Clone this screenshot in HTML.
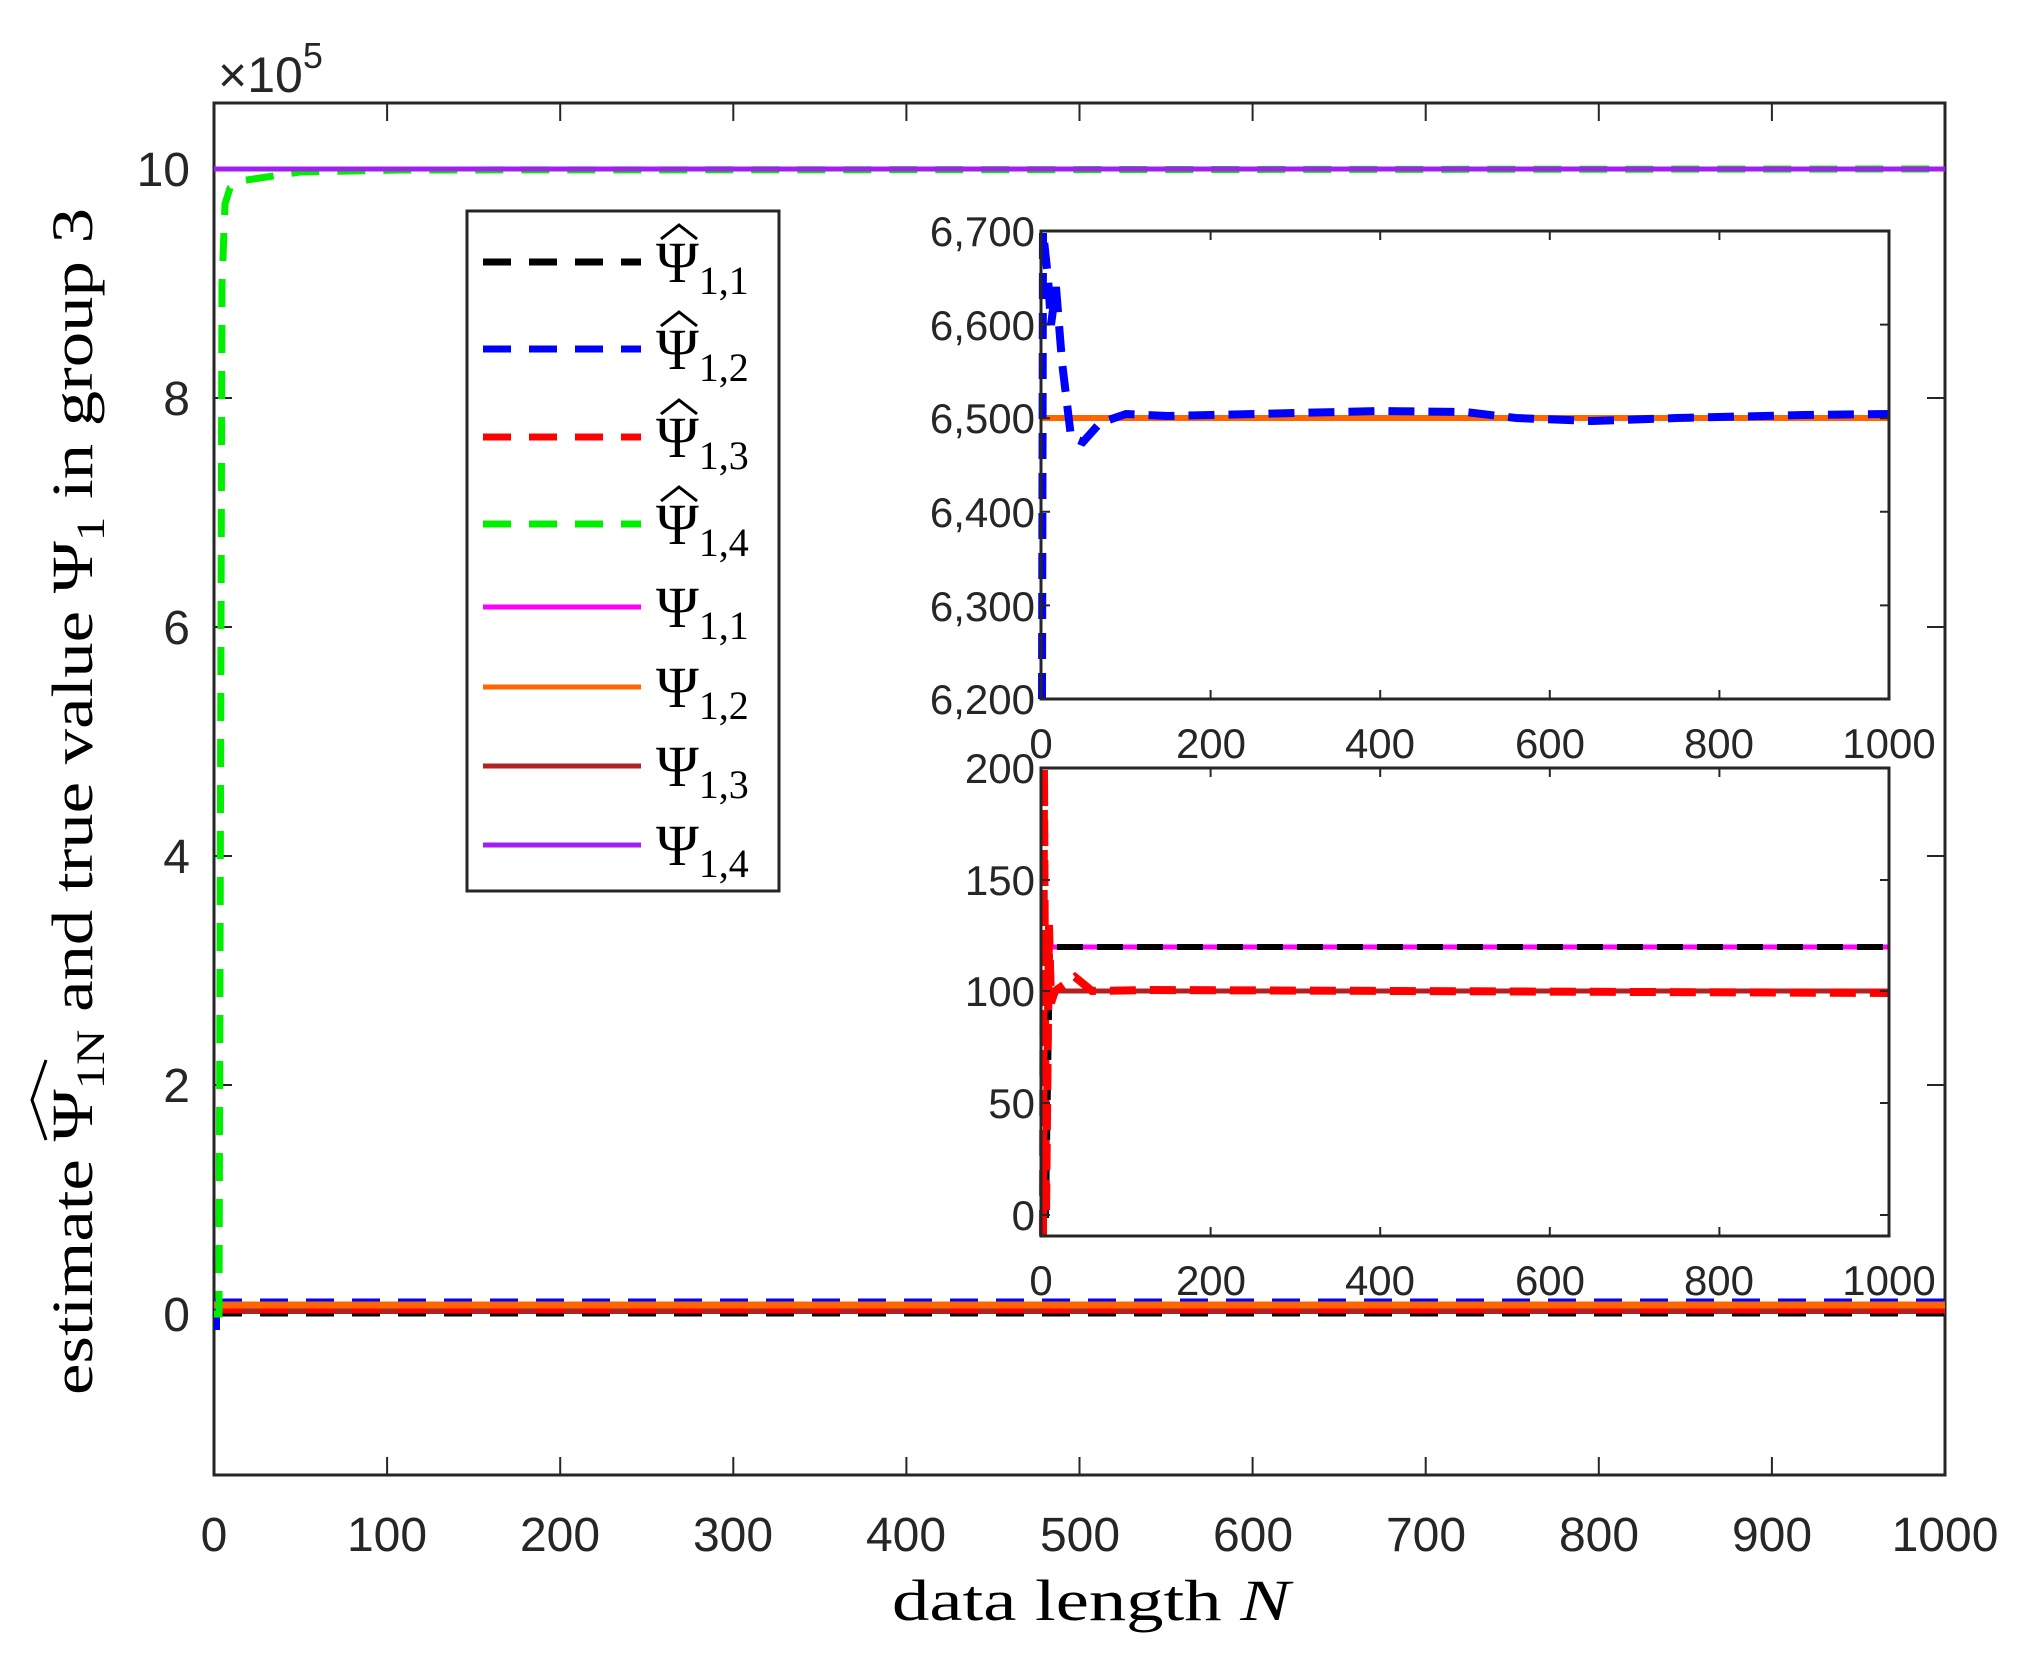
<!DOCTYPE html>
<html><head><meta charset="utf-8"><style>
html,body{margin:0;padding:0;background:#fff}
svg{display:block}
text{font-family:"Liberation Sans",sans-serif;fill:#262626}
.s{font-family:"Liberation Serif",serif;fill:#000}
</style></head><body>
<svg width="2033" height="1659" viewBox="0 0 2033 1659" xmlns="http://www.w3.org/2000/svg">
<rect width="2033" height="1659" fill="#fff"/>
<g stroke="#262626" stroke-width="3" fill="none">
<rect x="214" y="103" width="1731" height="1372"/>
</g>
<g stroke="#262626" stroke-width="2">
<path d="M387.1,1475v-18M560.2,1475v-18M733.3,1475v-18M906.4,1475v-18M1079.5,1475v-18M1252.6,1475v-18M1425.7,1475v-18M1598.8,1475v-18M1771.9,1475v-18
M387.1,103v18M560.2,103v18M733.3,103v18M906.4,103v18M1079.5,103v18M1252.6,103v18M1425.7,103v18M1598.8,103v18M1771.9,103v18"/>
<path d="M214,169h18M214,398h18M214,627h18M214,856h18M214,1085h18M214,1314h18
M1945,169h-18M1945,398h-18M1945,627h-18M1945,856h-18M1945,1085h-18M1945,1314h-18"/>
</g>
<g font-size="48" text-anchor="middle">
<text x="214" y="1551">0</text><text x="387" y="1551">100</text><text x="560" y="1551">200</text><text x="733" y="1551">300</text><text x="906" y="1551">400</text><text x="1080" y="1551">500</text><text x="1253" y="1551">600</text><text x="1426" y="1551">700</text><text x="1599" y="1551">800</text><text x="1772" y="1551">900</text><text x="1945" y="1551">1000</text>
</g>
<g font-size="48" text-anchor="end">
<text x="190" y="186">10</text><text x="190" y="415">8</text><text x="190" y="644">6</text><text x="190" y="873">4</text><text x="190" y="1102">2</text><text x="190" y="1331">0</text>
</g>
<text x="218" y="92" font-size="50">×10<tspan dy="-24" font-size="36">5</tspan></text>
<text class="s" x="892" y="1620" font-size="58" textLength="398" lengthAdjust="spacingAndGlyphs">data length <tspan font-style="italic">N</tspan></text>
<text class="s" transform="translate(92,1395) rotate(-90)" font-size="58" textLength="1187" lengthAdjust="spacingAndGlyphs">estimate Ψ<tspan dy="12" font-size="40">1N</tspan><tspan dy="-12"> and true value Ψ</tspan><tspan dy="12" font-size="40">1</tspan><tspan dy="-12"> in group 3</tspan></text>
<path d="M46,1060 L32,1100 L46,1140" fill="none" stroke="#000" stroke-width="3"/>

<g fill="none">
<path d="M214,1311H1945" stroke="#b22222" stroke-width="6"/>
<path d="M214,1314H1945" stroke="#000" stroke-width="5" stroke-dasharray="28,18"/>
<path d="M214,1311H1945" stroke="#ff0000" stroke-width="5" stroke-dasharray="28,18"/>
<path d="M214,1301H1945" stroke="#0000ff" stroke-width="5" stroke-dasharray="28,18"/>
<path d="M217,1330V1301" stroke="#0000ff" stroke-width="6"/>
<path d="M214,1305H1945" stroke="#ff6600" stroke-width="7"/>
<path d="M214,1314L219,1314L222,284L225,204L230,188L240,181L260,178L300,172L400,170L1945,169" stroke="#00ee00" stroke-width="7" stroke-dasharray="28,18"/>
<path d="M214,169H1945" stroke="#a020f0" stroke-width="5"/>
</g>

<rect x="467" y="211" width="312" height="680" fill="#fff" stroke="#262626" stroke-width="3"/>
<g fill="none" stroke-width="7">
<path d="M483,262H641" stroke="#000" stroke-dasharray="28,18"/>
<path d="M483,349H641" stroke="#0000ff" stroke-dasharray="28,18"/>
<path d="M483,437H641" stroke="#ff0000" stroke-dasharray="28,18"/>
<path d="M483,524H641" stroke="#00ee00" stroke-dasharray="28,18"/>
<path d="M483,607H641" stroke="#ff00ff" stroke-width="5"/>
<path d="M483,687H641" stroke="#ff6600" stroke-width="5"/>
<path d="M483,766H641" stroke="#b22222" stroke-width="5"/>
<path d="M483,845H641" stroke="#a020f0" stroke-width="5"/>
</g>
<g fill="none" stroke="#000" stroke-width="3">
<path d="M661,239L679,225L697,239"/>
<path d="M661,326L679,312L697,326"/>
<path d="M661,414L679,400L697,414"/>
<path d="M661,501L679,487L697,501"/>
</g>
<g>
<text class="s" x="656" y="282" font-size="58">Ψ<tspan dy="12" font-size="40">1,1</tspan></text>
<text class="s" x="656" y="369" font-size="58">Ψ<tspan dy="12" font-size="40">1,2</tspan></text>
<text class="s" x="656" y="457" font-size="58">Ψ<tspan dy="12" font-size="40">1,3</tspan></text>
<text class="s" x="656" y="544" font-size="58">Ψ<tspan dy="12" font-size="40">1,4</tspan></text>
<text class="s" x="656" y="627" font-size="58">Ψ<tspan dy="12" font-size="40">1,1</tspan></text>
<text class="s" x="656" y="707" font-size="58">Ψ<tspan dy="12" font-size="40">1,2</tspan></text>
<text class="s" x="656" y="786" font-size="58">Ψ<tspan dy="12" font-size="40">1,3</tspan></text>
<text class="s" x="656" y="865" font-size="58">Ψ<tspan dy="12" font-size="40">1,4</tspan></text>
</g>

<rect x="1041" y="231" width="848" height="468" fill="#fff"/>
<g fill="none">
<path d="M1041,418H1889" stroke="#ff6600" stroke-width="6"/>
<path d="M1042,699L1043,231L1048,278L1051,325L1056,287L1062,362L1071,437L1083,442L1100,423L1126,414L1168,416L1211,415L1295,413L1380,411L1465,412L1516,418L1592,421L1677,418L1804,415L1889,414" stroke="#0000ff" stroke-width="8" stroke-dasharray="26,14"/>
</g>
<rect x="1041" y="231" width="848" height="468" fill="none" stroke="#262626" stroke-width="3"/>
<g stroke="#262626" stroke-width="2">
<path d="M1210.6,699v-9M1380.2,699v-9M1549.8,699v-9M1719.4,699v-9M1210.6,231v9M1380.2,231v9M1549.8,231v9M1719.4,231v9
M1041,324.6h9M1041,418.2h9M1041,511.8h9M1041,605.4h9M1889,324.6h-9M1889,418.2h-9M1889,511.8h-9M1889,605.4h-9"/>
</g>
<g font-size="42" text-anchor="end">
<text x="1035" y="246">6,700</text><text x="1035" y="340">6,600</text><text x="1035" y="433">6,500</text><text x="1035" y="527">6,400</text><text x="1035" y="621">6,300</text><text x="1035" y="714">6,200</text>
</g>
<g font-size="42" text-anchor="middle">
<text x="1041" y="758">0</text><text x="1211" y="758">200</text><text x="1380" y="758">400</text><text x="1550" y="758">600</text><text x="1719" y="758">800</text><text x="1889" y="758">1000</text>
</g>

<rect x="1041" y="768" width="848" height="468" fill="#fff"/>
<g fill="none">
<path d="M1049,947H1889" stroke="#ff00ff" stroke-width="5"/>
<path d="M1041,1215L1046,1215L1050,947L1889,947" stroke="#000" stroke-width="6" stroke-dasharray="26,14"/>
<path d="M1049,991H1889" stroke="#b22222" stroke-width="5"/>
<path d="M1043,1236L1044,768L1046,1215L1049,925L1051,1003L1055,991L1075,977L1092,991L1150,990L1889,993" stroke="#ff0000" stroke-width="8" stroke-dasharray="26,14"/>
</g>
<rect x="1041" y="768" width="848" height="468" fill="none" stroke="#262626" stroke-width="3"/>
<g stroke="#262626" stroke-width="2">
<path d="M1210.6,1236v-9M1380.2,1236v-9M1549.8,1236v-9M1719.4,1236v-9M1210.6,768v9M1380.2,768v9M1549.8,768v9M1719.4,768v9
M1041,880h9M1041,991h9M1041,1103h9M1041,1215h9M1889,880h-9M1889,991h-9M1889,1103h-9M1889,1215h-9"/>
</g>
<g font-size="42" text-anchor="end">
<text x="1035" y="783">200</text><text x="1035" y="895">150</text><text x="1035" y="1006">100</text><text x="1035" y="1118">50</text><text x="1035" y="1230">0</text>
</g>
<g font-size="42" text-anchor="middle">
<text x="1041" y="1295">0</text><text x="1211" y="1295">200</text><text x="1380" y="1295">400</text><text x="1550" y="1295">600</text><text x="1719" y="1295">800</text><text x="1889" y="1295">1000</text>
</g>
</svg>
</body></html>
